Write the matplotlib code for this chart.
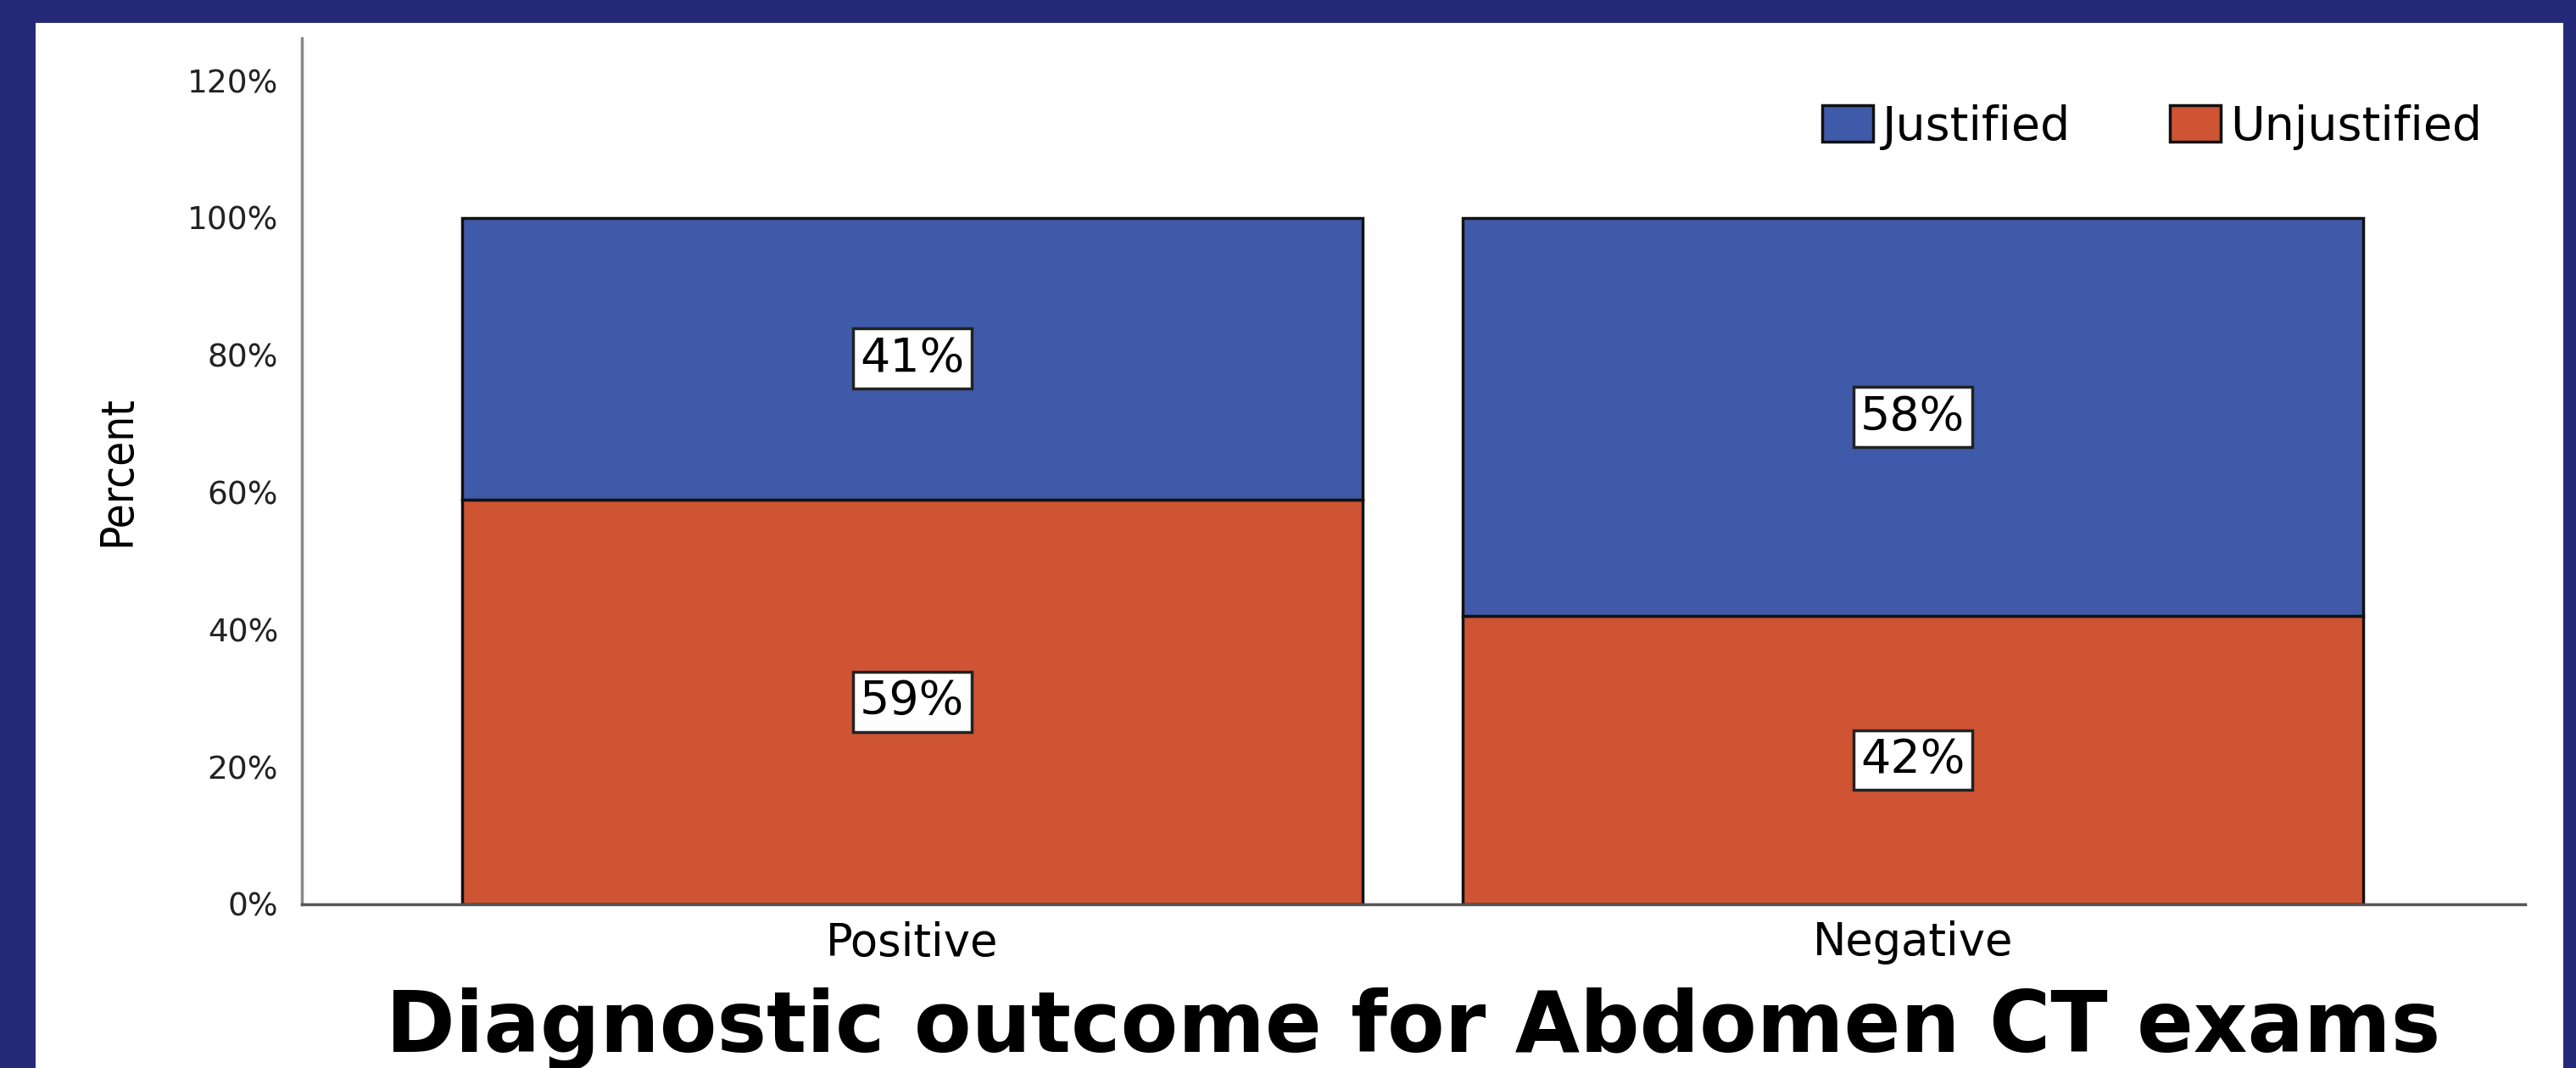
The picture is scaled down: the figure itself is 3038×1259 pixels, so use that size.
import matplotlib
matplotlib.use('Agg')
import matplotlib.pyplot as plt
from matplotlib.patches import Rectangle

# Data
categories = ['Positive', 'Negative']
unjustified = [59, 42]
justified = [41, 58]
series_names = ['Justified', 'Unjustified']
yticks = [0, 20, 40, 60, 80, 100, 120]

blue = '#3F5AA8'
orange = '#CF5434'

W, H = 3038, 1259
fig = plt.figure(figsize=(W / 100, H / 100), dpi=100)
fig.patch.set_facecolor('#252A78')

# white slide panel (behind the axes)
fig.patches.append(Rectangle((42 / W, 0), (3023 - 42) / W, 1 - 27 / H,
                             transform=fig.transFigure, facecolor='white',
                             edgecolor='none', zorder=-5))

ax = fig.add_axes([356 / W, 1 - 1066 / H, (2978 - 356) / W, (1066 - 45) / H])
ax.set_facecolor('none')
ax.set_zorder(2)

x = list(range(len(categories)))
b1 = ax.bar(x, unjustified, width=0.9, color=orange, edgecolor='#111111',
            linewidth=2.5, label='Unjustified', zorder=2)
b2 = ax.bar(x, justified, width=0.9, bottom=unjustified, color=blue,
            edgecolor='#111111', linewidth=2.5, label='Justified', zorder=2)

# value boxes in the middle of each segment
for i in x:
    for val, base in [(unjustified[i], 0), (justified[i], unjustified[i])]:
        ax.text(i, base + val / 2, f'{val}%', ha='center', va='center',
                fontsize=40, color='black', zorder=3,
                bbox=dict(boxstyle='square,pad=0.15', facecolor='white',
                          edgecolor='#222222', linewidth=2.5))

ax.set_xlim(-0.61, 1.612)
ax.set_ylim(0, 126.2)
ax.set_yticks(yticks)
ax.set_yticklabels([f'{t}%' for t in yticks], fontsize=27, color='#222222')
ax.set_xticks(x)
ax.set_xticklabels(categories, fontsize=38, color='black')
ax.tick_params(axis='both', length=0)
ax.tick_params(axis='y', pad=20)
ax.tick_params(axis='x', pad=14)

for side in ['top', 'right']:
    ax.spines[side].set_visible(False)
ax.spines['left'].set_color('#888888')
ax.spines['left'].set_linewidth(2.5)
ax.spines['bottom'].set_color('#555555')
ax.spines['bottom'].set_linewidth(2.5)

ax.set_ylabel('Percent', fontsize=38, fontstretch='condensed')
ax.yaxis.set_label_coords(-0.073, 0.5)

leg = fig.legend([b2, b1], series_names, loc='center left',
                 bbox_to_anchor=(2149 / W, 1 - 150 / H), ncol=2, frameon=False,
                 fontsize=40, handlelength=1.08, handleheight=0.8,
                 handletextpad=0.2, columnspacing=2.1, borderpad=0,
                 borderaxespad=0)

fig.text(1667 / W, 1 - 1240 / H, 'Diagnostic outcome for Abdomen CT exams',
         ha='center', va='baseline', fontsize=71, fontweight='bold', color='black')

fig.savefig('out.png', dpi=100, facecolor=fig.get_facecolor())
